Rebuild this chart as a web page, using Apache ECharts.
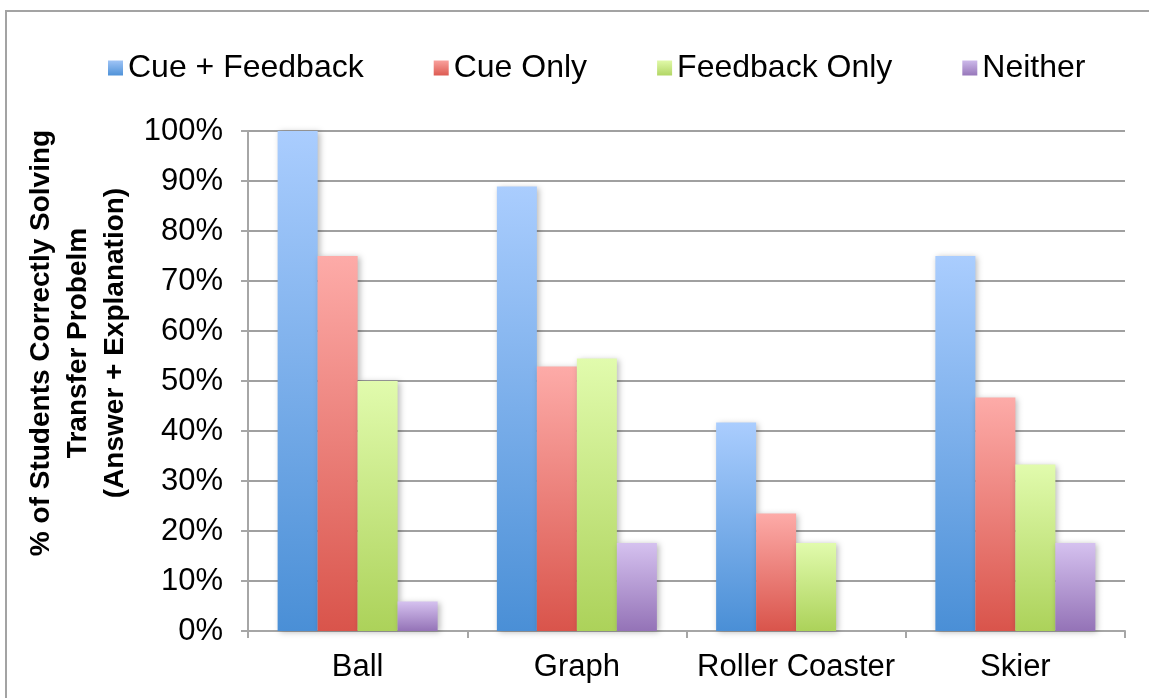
<!DOCTYPE html>
<html>
<head>
<meta charset="utf-8">
<style>
  html, body { margin: 0; padding: 0; background: #ffffff; }
  #chart { width: 1149px; height: 698px; }
</style>
<script src="https://cdn.jsdelivr.net/npm/echarts@6/dist/echarts.min.js"></script>
</head>
<body>
<div id="chart"></div>
<script>
// Transfer problems (x-axis categories)
const problems = ['Ball', 'Graph', 'Roller Coaster', 'Skier'];

// Percent of students solving each transfer problem, by condition
const cueFeedback  = [100, 88.9, 41.7, 75.0];
const cueOnly      = [75.0, 52.9, 23.5, 46.7];
const feedbackOnly = [50.0, 54.5, 17.6, 33.3];
const neither      = [5.9, 17.6, 0, 17.6];

const seriesNames = ['Cue + Feedback', 'Cue Only', 'Feedback Only', 'Neither'];
const yTicks = [0, 10, 20, 30, 40, 50, 60, 70, 80, 90, 100];

const FONT = '"Liberation Sans", Arial, Helvetica, sans-serif';

// Vertical gradient fill: light at the top, saturated at the base
function grad(top, bottom) {
  return new echarts.graphic.LinearGradient(0, 0, 0, 1, [
    { offset: 0, color: top },
    { offset: 1, color: bottom }
  ]);
}
const fills = [
  grad('#aacdfe', '#4a8fd6'),
  grad('#fdaba8', '#d9544b'),
  grad('#e1fbad', '#acd25a'),
  grad('#d5c1ef', '#9473b7')
];
const legendFills = [
  grad('#9fc4f6', '#4f92d8'),
  grad('#f9a19d', '#dd5b52'),
  grad('#e0f9a8', '#b2d665'),
  grad('#cdb9ea', '#9777ba')
];

const values = [cueFeedback, cueOnly, feedbackOnly, neither];

const chart = echarts.init(document.getElementById('chart'), null, { renderer: 'canvas' });

const option = {
  backgroundColor: '#ffffff',
  animation: false,
  textStyle: { fontFamily: FONT },
  legend: {
    left: 103,
    top: 47,
    itemWidth: 15,
    itemHeight: 15,
    itemGap: 70,
    icon: 'rect',
    textStyle: { fontSize: 32, color: '#000', fontFamily: FONT },
    data: seriesNames.map((n, i) => ({ name: n, itemStyle: { color: legendFills[i] } }))
  },
  grid: { left: 248, right: 24, top: 131, bottom: 67, containLabel: false },
  xAxis: {
    type: 'category',
    data: problems,
    boundaryGap: true,
    axisLine: { show: true, lineStyle: { color: '#a6a6a6', width: 2 } },
    axisTick: { show: true, length: 7, lineStyle: { color: '#a6a6a6', width: 2 } },
    axisLabel: { interval: 0, fontSize: 31, color: '#000', margin: 21, fontFamily: FONT }
  },
  yAxis: {
    type: 'value',
    min: 0,
    max: 100,
    interval: 10,
    axisLine: { show: true, lineStyle: { color: '#a6a6a6', width: 2 } },
    axisTick: { show: true, length: 7, lineStyle: { color: '#a6a6a6', width: 2 } },
    axisLabel: {
      fontSize: 31, color: '#000', margin: 25, fontFamily: FONT,
      formatter: v => (yTicks.includes(v) ? v + '%' : '')
    },
    splitLine: { show: true, lineStyle: { color: '#a0a0a0', width: 2 } }
  },
  series: values.map((arr, i) => ({
    name: seriesNames[i],
    type: 'bar',
    data: arr,
    barWidth: 40,
    barGap: '0%',
    itemStyle: {
      color: fills[i],
      shadowBlur: 6,
      shadowColor: 'rgba(0,0,0,0.28)',
      shadowOffsetX: 2,
      shadowOffsetY: 1
    }
  })),
  graphic: [
    {
      type: 'rect',
      silent: true,
      shape: { x: 6, y: 11, width: 1200, height: 720 },
      style: { fill: 'none', stroke: '#a3a3a3', lineWidth: 2 }
    },
    {
      type: 'text',
      silent: true,
      x: 78,
      y: 343,
      rotation: Math.PI / 2,
      style: {
        text: '% of Students Correctly Solving\nTransfer Probelm\n(Answer + Explanation)',
        fontSize: 28,
        fontWeight: 'bold',
        fontFamily: FONT,
        fill: '#000',
        align: 'center',
        verticalAlign: 'middle',
        lineHeight: 37
      }
    }
  ]
};

chart.setOption(option);
</script>
</body>
</html>
